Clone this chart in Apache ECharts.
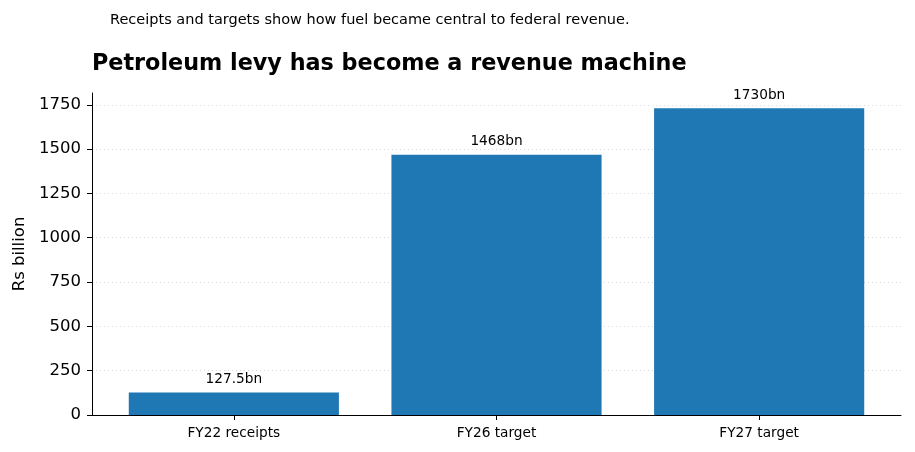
<!DOCTYPE html>
<html>
<head>
<meta charset="utf-8">
<script src="https://cdn.jsdelivr.net/npm/echarts@6/dist/echarts.min.js"></script>
<style>
  html, body { margin: 0; padding: 0; background: #fff; }
  #main { width: 915px; height: 452px; }
</style>
</head>
<body>
<div id="main"></div>
<script>
// data
let categories = ['FY22 receipts', 'FY26 target', 'FY27 target'];
let levyValues = [127.5, 1468, 1730];
let barLabels = ['127.5bn', '1468bn', '1730bn'];
let yTicks = [0, 250, 500, 750, 1000, 1250, 1500, 1750];

let font = 'DejaVu Sans';
let myChart = echarts.init(document.getElementById('main'));

let option = {
  backgroundColor: '#ffffff',
  animation: false,
  title: [
    {
      text: 'Receipts and targets show how fuel became central to federal revenue.',
      left: 110,
      top: 13,
      padding: 0,
      textStyle: { fontFamily: font, fontSize: 14.5, fontWeight: 'normal', color: '#000' }
    },
    {
      text: 'Petroleum levy has become a revenue machine',
      left: 92,
      top: 53,
      padding: 0,
      textStyle: { fontFamily: font, fontSize: 22.3, fontWeight: 'bold', color: '#000' }
    }
  ],
  grid: { left: 92, right: 14, top: 93, bottom: 37 },
  xAxis: {
    type: 'value',
    min: -0.54,
    max: 2.54,
    splitLine: { show: false },
    axisLine: { lineStyle: { color: '#000', width: 1 } },
    axisTick: { show: true, customValues: [0, 1, 2], length: 5, lineStyle: { color: '#000' } },
    axisLabel: {
      customValues: [0, 1, 2],
      formatter: function (v) { return categories[Math.round(v)]; },
      fontFamily: font, fontSize: 13.7, color: '#000', margin: 11
    }
  },
  yAxis: {
    type: 'value',
    min: 0,
    max: 1816.5,
    interval: 250,
    name: 'Rs billion',
    nameLocation: 'middle',
    nameGap: 63,
    nameTextStyle: { fontFamily: font, fontSize: 16.5, color: '#000' },
    axisLine: { show: true, onZero: false, lineStyle: { color: '#000', width: 1 } },
    axisTick: { show: true, customValues: yTicks, length: 5, lineStyle: { color: '#000' } },
    axisLabel: {
      customValues: yTicks,
      formatter: function (v) { return String(v); },
      fontFamily: font, fontSize: 16.5, color: '#000', margin: 11,
      padding: [3, 0, 0, 0]
    },
    splitLine: { show: true, showMinLine: false, lineStyle: { color: '#d9d9d9', type: [1, 3], width: 1 } }
  },
  series: [
    {
      type: 'bar',
      data: levyValues.map(function (v, i) { return [i, v]; }),
      barWidth: '80%',
      itemStyle: { color: '#1f77b4' },
      label: {
        show: true,
        position: 'top',
        distance: 6,
        fontFamily: font,
        fontSize: 13.7,
        color: '#000',
        formatter: function (p) { return barLabels[p.dataIndex]; }
      }
    }
  ]
};
myChart.setOption(option);
</script>
</body>
</html>
